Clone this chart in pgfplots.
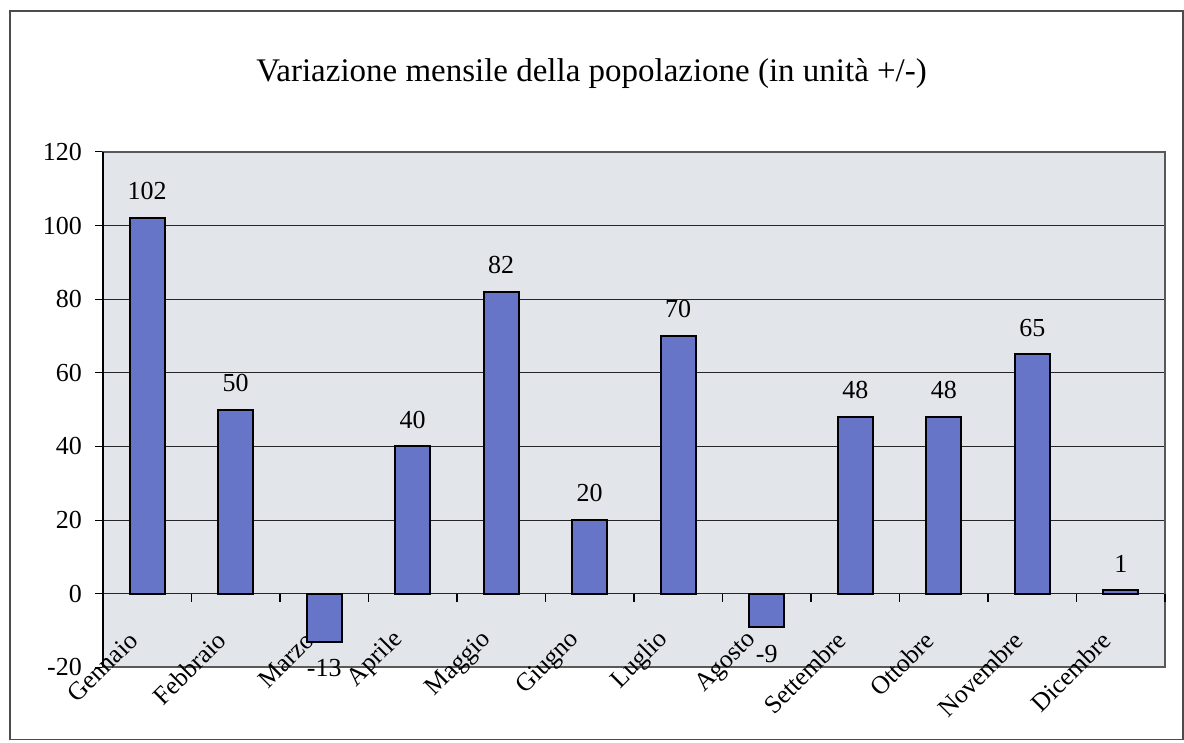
\documentclass[border=0pt]{standalone}
\usepackage{fontspec}
\setmainfont{Liberation Serif}
\usepackage{pgfplots}
\pgfplotsset{compat=1.18}
\usetikzlibrary{calc}
\definecolor{barblue}{RGB}{102,117,200}
\definecolor{plotbg}{RGB}{226,229,233}

\begin{document}
\begin{tikzpicture}
\begin{axis}[
  at={(0,0)}, anchor=south west,
  scale only axis, width=531.5pt, height=258pt,
  xmin=-0.5, xmax=11.5, ymin=-20, ymax=120,
  ytick={-20,0,...,120}, ytick pos=left,
  xtick={0,...,11},
  xticklabels={Gennaio,Febbraio,Marzo,Aprile,Maggio,Giugno,Luglio,Agosto,Settembre,Ottobre,Novembre,Dicembre},
  x tick label style={font=\fontsize{12.8}{15}\selectfont, xshift=-4.5pt, yshift=22pt, rotate=45, anchor=east},
  major x tick style={draw=none},
  y tick label style={font=\fontsize{13}{15}\selectfont, xshift=-3pt},
  ytick style={black, line width=0.6pt},
  tick align=outside, major tick length=4pt,
  ymajorgrids, grid style={black!85, line width=0.6pt},
  axis background/.style={fill=plotbg},
  axis line style={draw=gray!70!black, line width=1pt},
  ybar, bar width=17.5pt,
  nodes near coords, nodes near coords align={vertical},
  every node near coord/.append style={font=\fontsize{13}{15}\selectfont, inner sep=8.5pt, black},
  /pgf/number format/assume math mode=true,
  clip=false,
]
\addplot[fill=barblue, draw=black, line width=1pt] coordinates {
  (0,102) (1,50) (2,-13) (3,40) (4,82) (5,20)
  (6,70) (7,-9) (8,48) (9,48) (10,65) (11,1)
};
\draw[black, line width=0.8pt] (rel axis cs:0,0) -- (rel axis cs:0,1);
\pgfplotsinvokeforeach{0.5,1.5,...,11.5}{
  \draw[black, line width=0.6pt] (axis cs:#1,0) -- ([yshift=-4pt]axis cs:#1,0);
}
\end{axis}
\draw[gray!60!black, line width=0.6pt]
  ($(current axis.south west)+(-46.5pt,-36pt)$) rectangle ($(current axis.north east)+(9pt,70.5pt)$);
\node[font=\fontsize{16.5}{19}\selectfont] at ($(current axis.north west)+(244.5pt,39pt)$)
  {Variazione mensile della popolazione (in unità +/-)};
\pgfresetboundingbox
\useasboundingbox ($(current axis.south west)+(-51.5pt,-37.5pt)$) rectangle ($(current axis.north east)+(9.5pt,76pt)$);
\end{tikzpicture}
\end{document}
